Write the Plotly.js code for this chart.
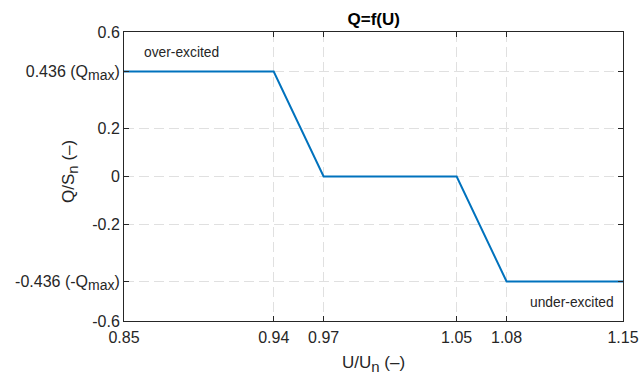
<!DOCTYPE html>
<html><head><meta charset="utf-8">
<script src="https://cdn.plot.ly/plotly-3.0.1.min.js"></script>
<style>html,body{margin:0;padding:0;background:#fff}</style>
</head><body><div id="chart" style="width:640px;height:380px"></div>
<script>
const uValues = [0.85, 0.94, 0.97, 1.05, 1.08, 1.15];
const qValues = [0.436, 0.436, 0, 0, -0.436, -0.436];
const xTickVals = [0.85, 0.94, 0.97, 1.05, 1.08, 1.15];
const xTickText = ['0.85', '0.94', '0.97', '1.05', '1.08', '1.15'];
const yTickVals = [-0.6, -0.436, -0.2, 0, 0.2, 0.436, 0.6];
const sub = s => '<sub><span style="font-size:14px">' + s + '</span></sub>';
const yTickText = ['-0.6', '-0.436 (-Q' + sub('max') + ')', '-0.2', '0', '0.2', '0.436 (Q' + sub('max') + ')', '0.6'];

const font = 'Liberation Sans, Arial, sans-serif';
const txt = '#262626';
const axisCommon = {
  showline: true, linecolor: txt, linewidth: 1, mirror: 'allticks',
  ticks: 'inside', ticklen: 5, tickcolor: txt,
  showgrid: true, gridcolor: '#e0e0e0', griddash: '10px,5px', gridwidth: 1,
  zeroline: false, tickfont: {family: font, size: 16, color: txt}
};
const sub15 = s => '<sub><span style="font-size:15px">' + s + '</span></sub>';
Plotly.newPlot('chart', [{
  x: uValues, y: qValues, type: 'scatter', mode: 'lines',
  line: {color: '#0072BD', width: 2}, hoverinfo: 'skip'
}], {
  width: 640, height: 380,
  margin: {l: 124, r: 17, t: 32, b: 59},
  paper_bgcolor: '#fff', plot_bgcolor: '#fff',
  showlegend: false,
  title: {text: '<b>Q=f(U)</b>', font: {family: font, size: 17, color: '#000'}, x: 0.584, xanchor: 'center', y: 0.95, yanchor: 'middle'},
  xaxis: Object.assign({}, axisCommon, {
    range: [0.85, 1.15], tickvals: xTickVals, ticktext: xTickText, ticklabelstandoff: 2
  }),
  yaxis: Object.assign({}, axisCommon, {
    range: [-0.6, 0.6], tickvals: yTickVals, ticktext: yTickText
  }),
  annotations: [
    {xref: 'paper', yref: 'paper', x: 0.036, y: 0.93, xanchor: 'left', yanchor: 'middle', text: 'over-excited', showarrow: false, font: {family: font, size: 13.8, color: txt}},
    {xref: 'paper', yref: 'paper', x: 0.986, y: 0.063, xanchor: 'right', yanchor: 'middle', text: 'under-excited', showarrow: false, font: {family: font, size: 13.8, color: txt}},
    {xref: 'paper', yref: 'paper', x: 0.499, y: -0.15, xanchor: 'center', yanchor: 'middle', text: 'U/U' + sub15('n') + ' (–)', showarrow: false, font: {family: font, size: 17, color: txt}},
    {xref: 'paper', yref: 'paper', x: -0.108, y: 0.516, xanchor: 'center', yanchor: 'middle', textangle: -90, text: 'Q/S' + sub15('n') + ' (–)', showarrow: false, font: {family: font, size: 17, color: txt}}
  ]
}, {displayModeBar: false, staticPlot: true});
</script></body></html>
